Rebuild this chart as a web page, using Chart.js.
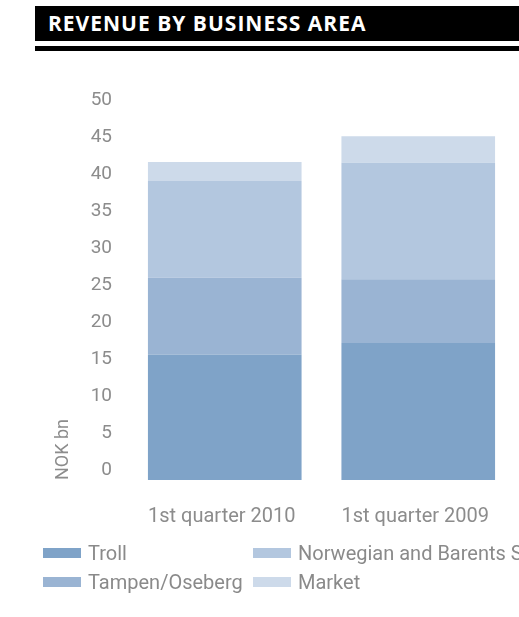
<!DOCTYPE html>
<html>
<head>
<meta charset="utf-8">
<script src="https://cdn.jsdelivr.net/npm/chart.js@4.4.1/dist/chart.umd.min.js"></script>
<style>
  html, body { margin: 0; padding: 0; background: #fff; }
  body { width: 519px; height: 617px; position: relative; overflow: hidden; font-family: Roboto, sans-serif; }
  #chart { position: absolute; left: 0; top: 0; }
  .heading { position: absolute; left: 35px; top: 6px; width: 484px; height: 35px; background: #000; color: #fff;
    font-family: "Open Sans", sans-serif; font-weight: bold; font-size: 21px; letter-spacing: 1px; line-height: 35px; padding-left: 13px; box-sizing: border-box; white-space: nowrap; }
  .rule { position: absolute; left: 35px; top: 46px; width: 484px; height: 5px; background: #000; }
  #legend { position: absolute; left: 43px; top: 538px; display: grid; grid-template-columns: 210px 260px;
    grid-template-rows: 29px 29px; grid-auto-flow: column; color: #8a8a8a; font-size: 20px; white-space: nowrap; }
  #legend span.item { display: flex; align-items: center; }
  #legend span.box { width: 38px; height: 10px; margin-right: 7px; flex: none; }
</style>
</head>
<body>
<canvas id="chart" width="519" height="617"></canvas>
<div class="heading">REVENUE BY BUSINESS AREA</div>
<div class="rule"></div>
<div id="legend"></div>
<script>
const categories = ["1st quarter 2010", "1st quarter 2009"];
const troll = [16.9, 18.5];
const tampenOseberg = [10.4, 8.6];
const norwegianBarents = [13.05, 15.7];
const market = [2.55, 3.6];

const gray = "#8c8c8c";

const chart = new Chart(document.getElementById("chart"), {
  type: "bar",
  data: {
    labels: categories,
    datasets: [
      { label: "Troll", data: troll, backgroundColor: "#7fa3c8" },
      { label: "Tampen/Oseberg", data: tampenOseberg, backgroundColor: "#9ab4d3" },
      { label: "Norwegian and Barents Seas", data: norwegianBarents, backgroundColor: "#b3c7df" },
      { label: "Market", data: market, backgroundColor: "#cddaea" },
    ],
  },
  options: {
    responsive: false,
    animation: false,
    layout: { padding: { left: 0, right: 4, top: 109.5, bottom: 77 } },
    datasets: { bar: { barPercentage: 0.794, categoryPercentage: 1 } },
    plugins: { legend: { display: false }, tooltip: { enabled: false } },
    scales: {
      x: {
        stacked: true,
        grid: { display: false, drawTicks: false },
        border: { display: false },
        ticks: { color: gray, font: { family: "Roboto", size: 20 }, padding: 25, labelOffset: -3 },
        afterFit: (scale) => { scale.height = 60; },
      },
      y: {
        stacked: true,
        min: 0,
        max: 50,
        grid: { display: false, drawTicks: false },
        border: { display: false },
        ticks: { stepSize: 5, color: gray, font: { family: "Roboto", size: 19 }, padding: 16, labelOffset: -9.5 },
        title: { display: true, text: "NOK bn", align: "start", color: gray,
          font: { family: "Roboto", size: 18 }, padding: { top: 53, bottom: 0 } },
        afterFit: (scale) => { scale.width = 128; },
      },
    },
  },
});

// legend built from the chart's datasets
const legendEl = document.getElementById("legend");
chart.data.datasets.forEach((ds) => {
  const item = document.createElement("span");
  item.className = "item";
  const box = document.createElement("span");
  box.className = "box";
  box.style.background = ds.backgroundColor;
  item.appendChild(box);
  item.appendChild(document.createTextNode(ds.label));
  legendEl.appendChild(item);
});
</script>
</body>
</html>
